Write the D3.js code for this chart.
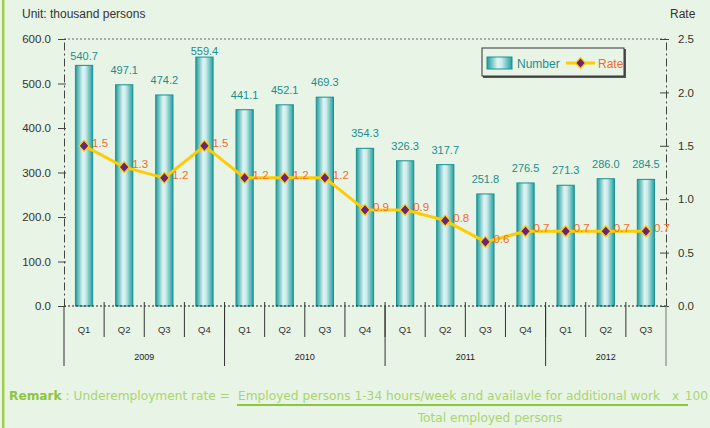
<!DOCTYPE html>
<html>
<head>
<meta charset="utf-8">
<title>Underemployment</title>
<script src="https://d3js.org/d3.v7.min.js"></script>
<style>
  body { margin: 0; background: #e8f4e6; }
  svg { display: block; font-family: "Liberation Sans", Arial, sans-serif; }
  .remark { font-family: "DejaVu Sans", sans-serif; font-size: 12.2px; }
</style>
</head>
<body>
<svg width="710" height="428"></svg>
<script>
// data
var quarters = ["Q1","Q2","Q3","Q4","Q1","Q2","Q3","Q4","Q1","Q2","Q3","Q4","Q1","Q2","Q3"];
var years = ["2009", "2010", "2011", "2012"];
var yearSpans = [4, 4, 4, 3];
var numbers = [540.7, 497.1, 474.2, 559.4, 441.1, 452.1, 469.3, 354.3, 326.3, 317.7, 251.8, 276.5, 271.3, 286.0, 284.5];
var rates = [1.5, 1.3, 1.2, 1.5, 1.2, 1.2, 1.2, 0.9, 0.9, 0.8, 0.6, 0.7, 0.7, 0.7, 0.7];
var leftTicks = [0, 100, 200, 300, 400, 500, 600];
var rightTicks = [0, 0.5, 1.0, 1.5, 2.0, 2.5];

var svg = d3.select("svg");
var plotL = 64, plotR = 666, plotT = 39, plotB = 306;

var x = d3.scaleBand().domain(d3.range(quarters.length)).range([plotL, plotR]).padding(0);
var yL = d3.scaleLinear().domain([0, 600]).range([plotB, plotT]);
var yR = d3.scaleLinear().domain([0, 2.5]).range([plotB, plotT]);
var bw = x.bandwidth(), barW = bw * 0.43;
var cx = function(i) { return x(i) + bw / 2; };

// gradient for the bars
var defs = svg.append("defs");
var grad = defs.append("linearGradient").attr("id", "barGrad");
grad.append("stop").attr("offset", "0%").attr("stop-color", "#1f9c9c");
grad.append("stop").attr("offset", "42%").attr("stop-color", "#e0f3f3");
grad.append("stop").attr("offset", "58%").attr("stop-color", "#cdecec");
grad.append("stop").attr("offset", "100%").attr("stop-color", "#229e9e");

// left border stripe
svg.append("rect").attr("x", 2).attr("y", 0).attr("width", 2.5).attr("height", 428).attr("fill", "#9fcf4f");

// titles
svg.append("text").attr("x", 22).attr("y", 18).attr("font-size", 12).attr("fill", "#333").text("Unit: thousand persons");
svg.append("text").attr("x", 670).attr("y", 18).attr("font-size", 12).attr("fill", "#333").text("Rate");

// top dotted grid line
svg.append("line").attr("x1", plotL).attr("x2", plotR).attr("y1", plotT).attr("y2", plotT)
  .attr("stroke", "#666").attr("stroke-dasharray", "2,2");

// bars
svg.selectAll(".bar").data(numbers).enter().append("rect")
  .attr("class", "bar")
  .attr("x", function(d, i) { return cx(i) - barW / 2; })
  .attr("y", function(d) { return yL(d); })
  .attr("width", barW)
  .attr("height", function(d) { return plotB - yL(d); })
  .attr("fill", "url(#barGrad)")
  .attr("stroke", "#179292").attr("stroke-width", 1);

svg.selectAll(".barLabel").data(numbers).enter().append("text")
  .attr("x", function(d, i) { return cx(i); })
  .attr("y", function(d) { var t = yL(d); return t - Math.min(15, 0.34 * (t - plotT)); })
  .attr("text-anchor", "middle").attr("dominant-baseline", "central")
  .attr("font-size", 11).attr("fill", "#1a8e8e")
  .text(function(d) { return d.toFixed(1); });

// zero line
svg.append("line").attr("x1", plotL).attr("x2", plotR).attr("y1", plotB).attr("y2", plotB)
  .attr("stroke", "#222").attr("stroke-dasharray", "2,2");

// axes
var axL = svg.append("g").attr("transform", "translate(" + plotL + ",0)")
  .call(d3.axisLeft(yL).tickValues(leftTicks).tickFormat(d3.format(".1f")).tickSizeOuter(0).tickSizeInner(6).tickPadding(7));
var axR = svg.append("g").attr("transform", "translate(" + plotR + ",0)")
  .call(d3.axisRight(yR).tickValues(rightTicks).tickFormat(d3.format(".1f")).tickSizeOuter(0).tickSizeInner(6).tickPadding(6));
[axL, axR].forEach(function(ax) {
  ax.select(".domain").attr("stroke", "#444").attr("stroke-dasharray", "8,3,2,3");
  ax.selectAll(".tick line").attr("stroke", "#444");
  ax.selectAll(".tick text").attr("font-size", 11.5).attr("fill", "#333")
    .attr("font-family", "Liberation Sans, Arial, sans-serif");
});
axR.selectAll(".tick line").attr("x1", -6).attr("x2", 3);
axL.selectAll(".tick line").attr("x1", -6).attr("x2", 2);

// category dividers and labels
svg.selectAll(".qdiv").data(d3.range(1, quarters.length)).enter().append("line")
  .attr("x1", function(i) { return x(i); }).attr("x2", function(i) { return x(i); })
  .attr("y1", plotB - 4).attr("y2", 337).attr("stroke", "#333");
svg.selectAll(".qlab").data(quarters).enter().append("text")
  .attr("x", function(d, i) { return cx(i); }).attr("y", 329)
  .attr("text-anchor", "middle").attr("dominant-baseline", "central")
  .attr("font-size", 9.5).attr("fill", "#333").text(function(d) { return d; });

// year dividers and labels
var starts = [0];
yearSpans.forEach(function(n, k) { starts.push(starts[k] + n); });
var edge = function(s) { return s < quarters.length ? x(s) : plotR; };
svg.selectAll(".ydiv").data(starts).enter().append("line")
  .attr("x1", edge).attr("x2", edge)
  .attr("y1", plotB).attr("y2", 366)
  .attr("stroke", function(s, k) { return k === starts.length - 1 ? "#777" : "#333"; });
svg.selectAll(".ylab").data(years).enter().append("text")
  .attr("x", function(d, k) { return (edge(starts[k]) + edge(starts[k + 1])) / 2; })
  .attr("y", 357).attr("text-anchor", "middle").attr("dominant-baseline", "central")
  .attr("font-size", 9).attr("fill", "#222").text(function(d) { return d; });

// rate line
var line = d3.line().x(function(d, i) { return cx(i); }).y(function(d) { return yR(d); });
svg.append("path").datum(rates).attr("d", line)
  .attr("fill", "none").attr("stroke", "#ffcc00").attr("stroke-width", 3).attr("stroke-linejoin", "round");

var diamond = "M0,-5.5L5,0L0,5.5L-5,0Z";
svg.selectAll(".mk").data(rates).enter().append("path")
  .attr("d", diamond)
  .attr("transform", function(d, i) { return "translate(" + cx(i) + "," + yR(d) + ")"; })
  .attr("fill", "#6b2575").attr("stroke", "#ffcc00").attr("stroke-width", 1.2);

svg.selectAll(".rlab").data(rates).enter().append("text")
  .attr("x", function(d, i) { return cx(i) + 8; })
  .attr("y", function(d) { return yR(d) - 3; })
  .attr("dominant-baseline", "central")
  .attr("font-size", 11.5).attr("fill", "#f26c2c")
  .text(function(d) { return d.toFixed(1); });

// legend
var lg = svg.append("g");
lg.append("rect").attr("x", 483).attr("y", 49).attr("width", 143).attr("height", 29).attr("fill", "#555");
lg.append("rect").attr("x", 482).attr("y", 48).attr("width", 142).attr("height", 28)
  .attr("fill", "#e8f4e6").attr("stroke", "#333");
lg.append("rect").attr("x", 487).attr("y", 57).attr("width", 25).attr("height", 12)
  .attr("fill", "url(#barGrad)").attr("stroke", "#179292");
lg.append("text").attr("x", 517).attr("y", 68).attr("font-size", 12).attr("fill", "#1a8e8e").text("Number");
lg.append("line").attr("x1", 566).attr("x2", 595).attr("y1", 63).attr("y2", 63)
  .attr("stroke", "#ffcc00").attr("stroke-width", 3);
lg.append("path").attr("d", diamond).attr("transform", "translate(580.5,63)")
  .attr("fill", "#6b2575").attr("stroke", "#ffcc00").attr("stroke-width", 1.2);
lg.append("text").attr("x", 598).attr("y", 68).attr("font-size", 12).attr("fill", "#f26c2c").text("Rate");

// remark
var rm = svg.append("g").attr("class", "remark");
var t1 = rm.append("text").attr("x", 9).attr("y", 400);
t1.append("tspan").attr("fill", "#8cc63f").attr("font-weight", "bold").text("Remark");
t1.append("tspan").attr("fill", "#a9d46f").text(" : Underemployment rate =");
rm.append("text").attr("x", 238).attr("y", 400).attr("fill", "#a9d46f")
  .text("Employed persons 1-34 hours/week and availavle for additional work");
rm.append("text").attr("x", 672).attr("y", 400).attr("fill", "#a9d46f").text("x");
rm.append("text").attr("x", 708).attr("y", 400).attr("text-anchor", "end").attr("fill", "#a9d46f").text("100");
rm.append("line").attr("x1", 237).attr("x2", 688).attr("y1", 405).attr("y2", 405)
  .attr("stroke", "#8cc63f").attr("stroke-width", 2);
rm.append("text").attr("x", 490).attr("y", 422).attr("text-anchor", "middle").attr("fill", "#a9d46f")
  .text("Total employed persons");
</script>
</body>
</html>
